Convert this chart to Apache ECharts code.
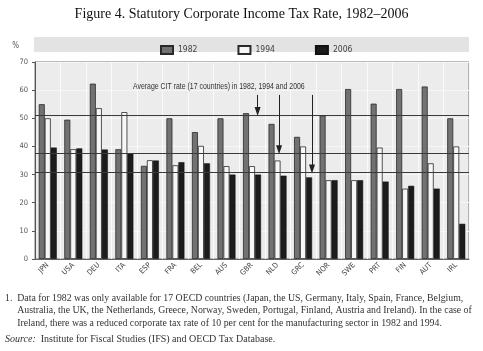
<!DOCTYPE html>
<html>
<head>
<meta charset="utf-8">
<script src="https://cdn.jsdelivr.net/npm/echarts@6/dist/echarts.min.js"></script>
<style>
  html, body { margin: 0; padding: 0; background: #fff; }
  #chart { width: 483px; height: 351px; }
</style>
</head>
<body>
<div id="chart"></div>
<script>
// values
const countries = ['JPN', 'USA', 'DEU', 'ITA', 'ESP', 'FRA', 'BEL', 'AUS', 'GBR', 'NLD', 'GRC', 'NOR', 'SWE', 'PRT', 'FIN', 'AUT', 'IRL'];
const rate1982 = [55, 49.5, 62.3, 39, 33.1, 50, 45.1, 50, 51.8, 48, 43.4, 51, 60.4, 55.2, 60.4, 61.3, 50];
const rate1994 = [50, 39, 53.6, 52.2, 35.1, 33.3, 40.2, 33, 33, 35, 40, 28, 28, 39.6, 25, 34, 40];
const rate2006 = [39.6, 39.3, 38.9, 37.5, 35, 34.4, 34, 30, 30, 29.6, 29, 28, 28, 27.5, 26, 25, 12.5];
const averages = [51.2, 37.6, 30.8];
// arrows: x position in category units (0..17), top value
const arrowX = [8.72, 9.56, 10.85];
const arrowTop = 58.3;
const yTicks = [0, 10, 20, 30, 40, 50, 60, 70];

const chart = echarts.init(document.getElementById('chart'));
const sans = "'Liberation Sans Narrow', 'DejaVu Sans Condensed', 'Liberation Sans', sans-serif";
const serif = "'Liberation Serif', 'DejaVu Serif', serif";

const barStyle = (fill) => ({ color: fill, borderColor: '#2a2a2a', borderWidth: 0.8 });

const option = {
  animation: false,
  backgroundColor: '#fff',
  title: {
    text: 'Figure 4. Statutory Corporate Income Tax Rate, 1982\u20132006',
    left: 'center',
    top: 2,
    textStyle: { fontFamily: serif, fontSize: 14, fontWeight: 'normal', color: '#111' }
  },
  legend: {
    left: 155,
    top: 40,
    icon: 'rect',
    itemWidth: 12,
    itemHeight: 8,
    itemGap: 40,
    textStyle: { fontFamily: sans, fontSize: 8.5, color: '#444' },
    data: ['1982', '1994', '2006']
  },
  graphic: [
    { type: 'rect', z: -1, shape: { x: 34, y: 37, width: 435, height: 15 }, style: { fill: '#e3e3e3' } },
    {
      type: 'text', x: 133, y: 87, scaleX: 0.77, z: 20,
      style: {
        text: 'Average CIT rate (17 countries) in 1982, 1994 and 2006',
        font: "9px 'Liberation Sans', sans-serif", fill: '#333', verticalAlign: 'middle'
      }
    },
    {
      type: 'text', left: 5, top: 292,
      style: {
        text: '1.  Data for 1982 was only available for 17 OECD countries (Japan, the US, Germany, Italy, Spain, France, Belgium,\n     Australia, the UK, the Netherlands, Greece, Norway, Sweden, Portugal, Finland, Austria and Ireland). In the case of\n     Ireland, there was a reduced corporate tax rate of 10 per cent for the manufacturing sector in 1982 and 1994.',
        font: "9.8px 'Liberation Serif', serif", fill: '#333', lineHeight: 12.5
      }
    },
    {
      type: 'text', left: 5, top: 334,
      style: {
        text: '{i|Source:}  Institute for Fiscal Studies (IFS) and OECD Tax Database.',
        font: "10px 'Liberation Serif', serif", fill: '#333',
        rich: { i: { fontStyle: 'italic', fontFamily: 'Liberation Serif', fontSize: 10, fill: '#333' } }
      }
    }
  ],
  grid: {
    left: 35, right: 14, top: 62, bottom: 92,
    show: true, backgroundColor: '#ececec', borderColor: '#777', borderWidth: 1
  },
  xAxis: [
    {
      type: 'category',
      data: countries,
      axisLine: { lineStyle: { color: '#666' } },
      axisTick: { inside: true, length: 4, lineStyle: { color: '#888' } },
      splitLine: { show: true, lineStyle: { color: '#fafafa', width: 1 } },
      axisLabel: { rotate: 45, fontFamily: sans, fontSize: 7.5, color: '#444', margin: 5 }
    },
    { type: 'value', min: 0, max: 17, show: false }
  ],
  yAxis: {
    type: 'value',
    min: yTicks[0],
    max: yTicks[yTicks.length - 1],
    interval: 10,
    name: '%',
    nameLocation: 'end',
    nameGap: 12,
    nameTextStyle: { fontFamily: sans, fontSize: 8, color: '#555', align: 'right', padding: [0, 16, 0, 0] },
    axisLine: { show: true, lineStyle: { color: '#555' } },
    axisTick: { show: true, length: 3, lineStyle: { color: '#555' } },
    splitLine: { lineStyle: { color: '#f6f6f6' } },
    axisLabel: { fontFamily: sans, fontSize: 7.5, color: '#555', margin: 7 }
  },
  series: [
    {
      name: '1982', type: 'bar', data: rate1982, barWidth: 6, barGap: '0%',
      itemStyle: barStyle('#727272')
    },
    {
      name: '1994', type: 'bar', data: rate1994, barWidth: 6, barGap: '0%',
      itemStyle: barStyle('#f7f7f7')
    },
    {
      name: '2006', type: 'bar', data: rate2006, barWidth: 6, barGap: '0%',
      itemStyle: { color: '#1c1c1c', borderColor: '#111', borderWidth: 0.5 },
      markLine: {
        silent: true, symbol: 'none', z: 5,
        label: { show: false },
        lineStyle: { color: '#3a3a3a', type: 'solid', width: 1 },
        data: averages.map(v => ({ yAxis: v }))
      }
    },
    {
      name: 'arrows', type: 'scatter', xAxisIndex: 1, data: [], symbolSize: 0,
      markLine: {
        silent: true, symbol: ['none', 'triangle'], symbolSize: [6, 9], z: 6,
        label: { show: false },
        lineStyle: { color: '#222', type: 'solid', width: 1 },
        data: arrowX.map((x, i) => [{ coord: [x, arrowTop] }, { coord: [x, averages[i] + 1.2] }])
      }
    }
  ]
};
chart.setOption(option);
</script>
</body>
</html>
